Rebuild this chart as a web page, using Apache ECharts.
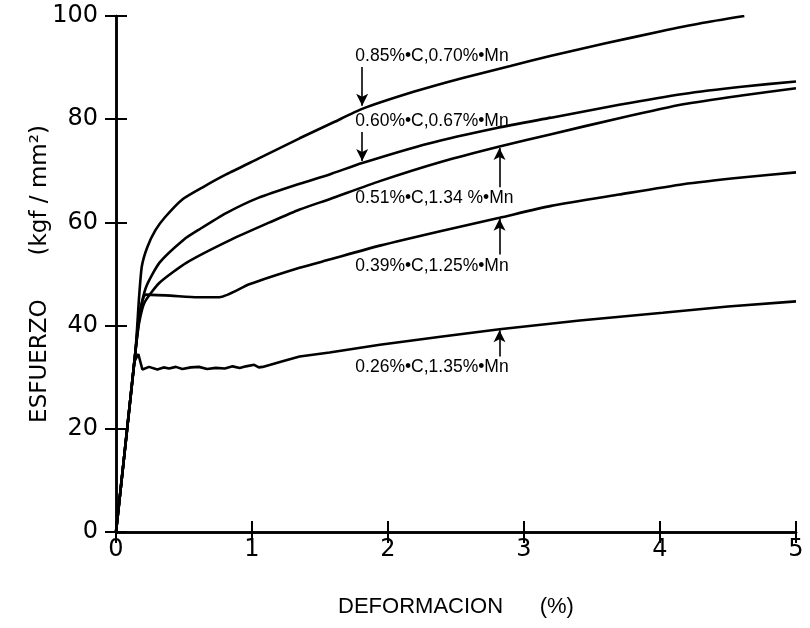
<!DOCTYPE html>
<html>
<head>
<meta charset="utf-8">
<script src="https://cdn.jsdelivr.net/npm/echarts@6/dist/echarts.min.js"></script>
<style>
  html, body { margin: 0; padding: 0; background: #fff; }
  #chart { width: 810px; height: 628px; }
</style>
</head>
<body>
<div id="chart"></div>
<script>
// strain (%) vs stress (kgf/mm2)
const s085 = [[0,0],[0.082,20],[0.143,35],[0.17,45.6],[0.19,51.5],[0.23,55.2],[0.29,58.5],[0.36,61],[0.49,64.5],[0.65,67],[0.81,69.3],[1.05,72.4],[1.35,76.3],[1.6,79.4],[1.81,82.0],[2.2,85.4],[2.55,88],[2.9,90.3],[3.2,92.3],[3.6,94.7],[4.0,97],[4.3,98.6],[4.62,100]];
const s060 = [[0,0],[0.082,20],[0.143,35],[0.17,42],[0.22,47.4],[0.32,52.2],[0.5,56.7],[0.61,58.6],[0.81,61.8],[1.05,64.8],[1.35,67.5],[1.57,69.3],[1.81,71.5],[2.3,75.3],[2.8,78.3],[3.2,80.3],[3.7,82.8],[4.17,84.9],[4.6,86.3],[5.0,87.3]];
const s051 = [[0,0],[0.082,20],[0.143,35],[0.17,40.5],[0.21,44.5],[0.32,48.3],[0.52,52.2],[0.85,56.7],[1.13,60],[1.35,62.5],[1.57,64.5],[1.94,68],[2.4,71.8],[2.82,74.7],[3.2,77.1],[3.7,80.2],[4.17,82.9],[4.6,84.6],[5.0,86.0]];
const s039 = [[0,0],[0.082,20],[0.143,35],[0.18,43],[0.22,46],[0.4,45.8],[0.6,45.5],[0.76,45.5],[0.98,48],[1.35,51.2],[1.57,52.8],[1.94,55.5],[2.4,58.4],[2.82,60.9],[3.2,63.2],[3.7,65.4],[4.17,67.4],[4.6,68.7],[5.0,69.7]];
const s026 = [[0,0],[0.082,20],[0.135,33],[0.164,34.5],[0.194,31.5],[0.243,32.0],[0.304,31.5],[0.35,31.9],[0.39,31.7],[0.44,32.0],[0.488,31.6],[0.55,31.9],[0.61,32.0],[0.67,31.6],[0.734,31.8],[0.8,31.7],[0.857,32.1],[0.91,31.8],[0.955,32.1],[1.016,32.4],[1.05,31.9],[1.078,32.0],[1.225,33.1],[1.35,34.0],[1.57,34.8],[1.94,36.3],[2.4,37.9],[2.82,39.3],[3.41,41.0],[4.02,42.5],[4.5,43.7],[5.0,44.7]];

const names = ['0.85%•C,0.70%•Mn', '0.60%•C,0.67%•Mn', '0.51%•C,1.34 %•Mn', '0.39%•C,1.25%•Mn', '0.26%•C,1.35%•Mn'];
// label anchor [x, y] and arrow [x, yFrom, yTo] in data units
const labelAt = [[1.76, 92.2], [1.76, 79.6], [1.76, 64.7], [1.76, 51.5], [1.76, 32.0]];
const arrows = [[1.81, 90.1, 82.6], [1.81, 77.5, 71.9], [2.82, 66.8, 74.4], [2.82, 53.8, 60.7], [2.82, 34.0, 39.1]];

const xTicks = [0, 5, 1];
const yTicks = [0, 100, 20];

const chart = echarts.init(document.getElementById('chart'));

const axisLine = { show: true, lineStyle: { color: '#000', width: 2.5 } };
const axisTick = { show: true, inside: true, length: 11, lineStyle: { color: '#000', width: 2 } };
const tickFont = { color: '#000', fontFamily: 'DejaVu Sans', fontSize: 24 };

const series = [s085, s060, s051, s039, s026].map((d, i) => ({
  name: names[i],
  type: 'line',
  data: d,
  showSymbol: false,
  symbol: 'none',
  smooth: i < 4 ? 0.2 : false,
  lineStyle: { color: '#000', width: 2.6 },
  silent: true,
  markLine: {
    silent: true,
    symbol: ['none', 'arrow'],
    symbolSize: [9, 12],
    lineStyle: { color: '#000', width: 1.6, type: 'solid' },
    label: { show: false },
    data: [[{ coord: [arrows[i][0], arrows[i][1]] }, { coord: [arrows[i][0], arrows[i][2]] }]]
  },
  markPoint: {
    silent: true,
    symbol: 'circle',
    symbolSize: 0,
    label: {
      show: true,
      position: 'right',
      distance: 0,
      formatter: names[i],
      color: '#000',
      fontFamily: 'Liberation Sans',
      fontSize: 17.5
    },
    data: [{ coord: labelAt[i] }]
  }
}));

chart.setOption({
  animation: false,
  backgroundColor: '#fff',
  grid: { left: 116, right: 14, top: 16, bottom: 96 },
  xAxis: [
    {
      type: 'value', min: xTicks[0], max: xTicks[1], interval: xTicks[2],
      name: 'DEFORMACION      (%)', nameLocation: 'middle', nameGap: 64,
      nameMoveOverlap: false,
      nameTextStyle: { color: '#000', fontFamily: 'Liberation Sans', fontSize: 22 },
      axisLine, axisTick, splitLine: { show: false },
      axisLabel: { ...tickFont, margin: 6 }
    },
    {
      type: 'value', position: 'top', min: xTicks[0], max: xTicks[1], interval: xTicks[2],
      axisLine, axisTick, splitLine: { show: false }, axisLabel: { show: false }
    }
  ],
  yAxis: [
    {
      type: 'value', min: yTicks[0], max: yTicks[1], interval: yTicks[2],
      name: 'ESFUERZO      (kgf / mm²)', nameLocation: 'middle', nameGap: 64,
      nameMoveOverlap: false,
      nameTextStyle: { color: '#000', fontFamily: 'DejaVu Sans', fontSize: 23 },
      axisLine, axisTick, splitLine: { show: false },
      axisLabel: { ...tickFont, margin: 18 }
    },
    {
      type: 'value', position: 'right', min: yTicks[0], max: yTicks[1], interval: yTicks[2],
      axisLine, axisTick, splitLine: { show: false }, axisLabel: { show: false }
    }
  ],
  series
});
</script>
</body>
</html>
